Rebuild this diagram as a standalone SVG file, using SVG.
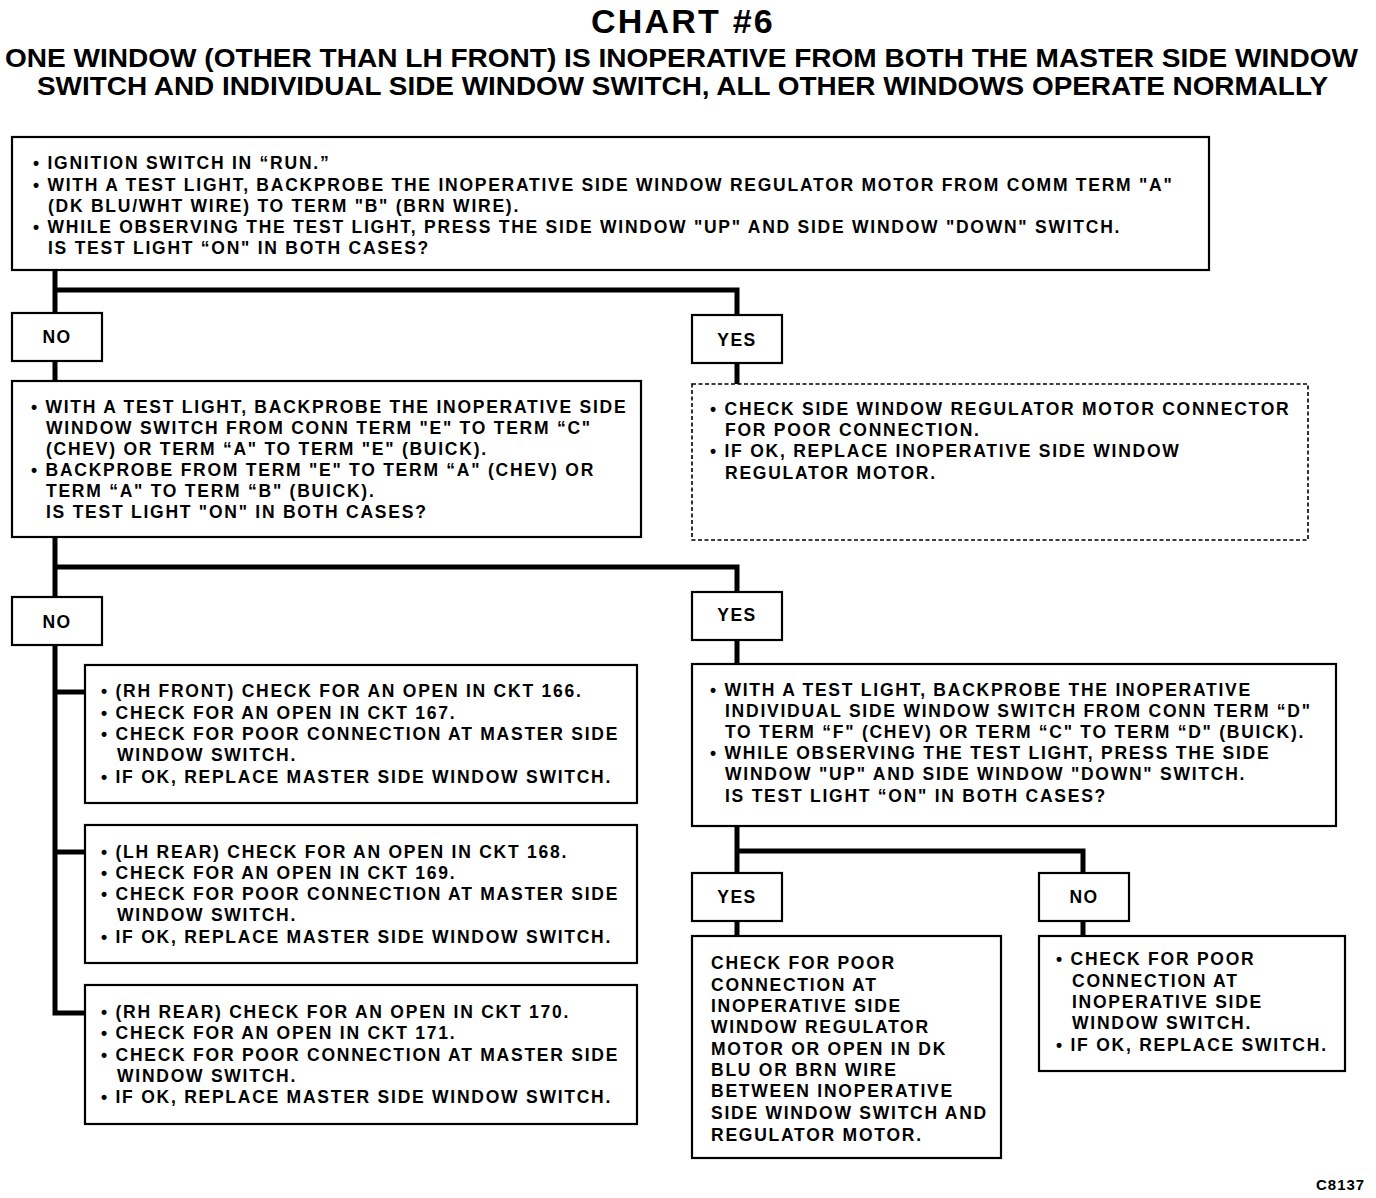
<svg xmlns="http://www.w3.org/2000/svg" width="1376" height="1198" viewBox="0 0 1376 1198">
<style>
  .bg{fill:#fff}
  .box{fill:#fff;stroke:#000;stroke-width:2.2}
  .dash{fill:#fff;stroke:#000;stroke-width:1.6;stroke-dasharray:4 2.5}
  .conn{fill:none;stroke:#000;stroke-width:5;stroke-linejoin:miter;stroke-linecap:butt}
  text{font-family:"Liberation Sans",Arial,Helvetica,sans-serif;font-weight:bold;fill:#000}
  .t{font-size:17.5px;letter-spacing:1.75px}
  .lbl{font-size:17.5px;letter-spacing:1.5px;text-anchor:middle}
  .title{font-size:34px;letter-spacing:2.2px;text-anchor:middle}
  .sub{font-size:26px}
  .code{font-size:15px;letter-spacing:1px}
</style>
<rect class="bg" x="0" y="0" width="1376" height="1198"/>
<g id="title">
  <text class="title" x="683" y="33">CHART #6</text>
  <text class="sub" x="5" y="67" textLength="1353" lengthAdjust="spacingAndGlyphs">ONE WINDOW (OTHER THAN LH FRONT) IS INOPERATIVE FROM BOTH THE MASTER SIDE WINDOW</text>
  <text class="sub" x="37" y="95" textLength="1291" lengthAdjust="spacingAndGlyphs">SWITCH AND INDIVIDUAL SIDE WINDOW SWITCH, ALL OTHER WINDOWS OPERATE NORMALLY</text>
</g>
<g id="connectors">
  <path class="conn" d="M55 270 V313"/>
  <path class="conn" d="M55 290 H737 V315"/>
  <path class="conn" d="M55 361 V381"/>
  <path class="conn" d="M737 363 V384"/>
  <path class="conn" d="M55 537 V597"/>
  <path class="conn" d="M55 567 H737 V592"/>
  <path class="conn" d="M737 640 V664"/>
  <path class="conn" d="M55 645 V1013 H85"/>
  <path class="conn" d="M55 692 H85"/>
  <path class="conn" d="M55 852 H85"/>
  <path class="conn" d="M737 826 V873"/>
  <path class="conn" d="M737 851 H1083 V873"/>
  <path class="conn" d="M737 921 V936"/>
  <path class="conn" d="M1083 921 V936"/>
</g>
<g id="box1">
  <rect class="box" x="12" y="137" width="1197" height="133"/>
  <text class="t" x="33" y="169">• IGNITION SWITCH IN “RUN.”</text>
  <text class="t" x="33" y="191">• WITH A TEST LIGHT, BACKPROBE THE INOPERATIVE SIDE WINDOW REGULATOR MOTOR FROM COMM TERM "A"</text>
  <text class="t" x="48" y="212">(DK BLU/WHT WIRE) TO TERM "B" (BRN WIRE).</text>
  <text class="t" x="33" y="233">• WHILE OBSERVING THE TEST LIGHT, PRESS THE SIDE WINDOW "UP" AND SIDE WINDOW "DOWN" SWITCH.</text>
  <text class="t" x="48" y="254">IS TEST LIGHT “ON" IN BOTH CASES?</text>
</g>
<g id="no1">
  <rect class="box" x="12" y="313" width="90" height="48"/>
  <text class="lbl" x="57" y="343">NO</text>
</g>
<g id="yes1">
  <rect class="box" x="692" y="315" width="90" height="48"/>
  <text class="lbl" x="737" y="346">YES</text>
</g>
<g id="box2">
  <rect class="box" x="12" y="381" width="629" height="156"/>
  <text class="t" x="31" y="413">• WITH A TEST LIGHT, BACKPROBE THE INOPERATIVE SIDE</text>
  <text class="t" x="46" y="434">WINDOW SWITCH FROM CONN TERM "E" TO TERM “C"</text>
  <text class="t" x="46" y="455">(CHEV) OR TERM “A" TO TERM "E" (BUICK).</text>
  <text class="t" x="31" y="476">• BACKPROBE FROM TERM "E" TO TERM “A" (CHEV) OR</text>
  <text class="t" x="46" y="497">TERM “A" TO TERM “B" (BUICK).</text>
  <text class="t" x="46" y="518">IS TEST LIGHT "ON" IN BOTH CASES?</text>
</g>
<g id="box-yes1">
  <rect class="dash" x="692" y="384" width="616" height="156"/>
  <text class="t" x="710" y="415">• CHECK SIDE WINDOW REGULATOR MOTOR CONNECTOR</text>
  <text class="t" x="725" y="436">FOR POOR CONNECTION.</text>
  <text class="t" x="710" y="457">• IF OK, REPLACE INOPERATIVE SIDE WINDOW</text>
  <text class="t" x="725" y="479">REGULATOR MOTOR.</text>
</g>
<g id="no2">
  <rect class="box" x="12" y="597" width="90" height="48"/>
  <text class="lbl" x="57" y="628">NO</text>
</g>
<g id="yes2">
  <rect class="box" x="692" y="592" width="90" height="48"/>
  <text class="lbl" x="737" y="621">YES</text>
</g>
<g id="box-rhfront">
  <rect class="box" x="85" y="665" width="552" height="138"/>
  <text class="t" x="101" y="697">• (RH FRONT) CHECK FOR AN OPEN IN CKT 166.</text>
  <text class="t" x="101" y="719">• CHECK FOR AN OPEN IN CKT 167.</text>
  <text class="t" x="101" y="740">• CHECK FOR POOR CONNECTION AT MASTER SIDE</text>
  <text class="t" x="117" y="761">WINDOW SWITCH.</text>
  <text class="t" x="101" y="783">• IF OK, REPLACE MASTER SIDE WINDOW SWITCH.</text>
</g>
<g id="box-lhrear">
  <rect class="box" x="85" y="825" width="552" height="138"/>
  <text class="t" x="101" y="858">• (LH REAR) CHECK FOR AN OPEN IN CKT 168.</text>
  <text class="t" x="101" y="879">• CHECK FOR AN OPEN IN CKT 169.</text>
  <text class="t" x="101" y="900">• CHECK FOR POOR CONNECTION AT MASTER SIDE</text>
  <text class="t" x="117" y="921">WINDOW SWITCH.</text>
  <text class="t" x="101" y="943">• IF OK, REPLACE MASTER SIDE WINDOW SWITCH.</text>
</g>
<g id="box-rhrear">
  <rect class="box" x="85" y="985" width="552" height="139"/>
  <text class="t" x="101" y="1018">• (RH REAR) CHECK FOR AN OPEN IN CKT 170.</text>
  <text class="t" x="101" y="1039">• CHECK FOR AN OPEN IN CKT 171.</text>
  <text class="t" x="101" y="1061">• CHECK FOR POOR CONNECTION AT MASTER SIDE</text>
  <text class="t" x="117" y="1082">WINDOW SWITCH.</text>
  <text class="t" x="101" y="1103">• IF OK, REPLACE MASTER SIDE WINDOW SWITCH.</text>
</g>
<g id="box4">
  <rect class="box" x="692" y="664" width="644" height="162"/>
  <text class="t" x="710" y="696">• WITH A TEST LIGHT, BACKPROBE THE INOPERATIVE</text>
  <text class="t" x="725" y="717">INDIVIDUAL SIDE WINDOW SWITCH FROM CONN TERM “D"</text>
  <text class="t" x="725" y="738">TO TERM “F" (CHEV) OR TERM “C" TO TERM “D" (BUICK).</text>
  <text class="t" x="710" y="759">• WHILE OBSERVING THE TEST LIGHT, PRESS THE SIDE</text>
  <text class="t" x="725" y="780">WINDOW "UP" AND SIDE WINDOW "DOWN" SWITCH.</text>
  <text class="t" x="725" y="802">IS TEST LIGHT “ON" IN BOTH CASES?</text>
</g>
<g id="yes3">
  <rect class="box" x="692" y="873" width="90" height="48"/>
  <text class="lbl" x="737" y="903">YES</text>
</g>
<g id="no3">
  <rect class="box" x="1039" y="873" width="90" height="48"/>
  <text class="lbl" x="1084" y="903">NO</text>
</g>
<g id="box5">
  <rect class="box" x="692" y="936" width="309" height="222"/>
  <text class="t" x="711" y="969">CHECK FOR POOR</text>
  <text class="t" x="711" y="991">CONNECTION AT</text>
  <text class="t" x="711" y="1012">INOPERATIVE SIDE</text>
  <text class="t" x="711" y="1033">WINDOW REGULATOR</text>
  <text class="t" x="711" y="1055">MOTOR OR OPEN IN DK</text>
  <text class="t" x="711" y="1076">BLU OR BRN WIRE</text>
  <text class="t" x="711" y="1097">BETWEEN INOPERATIVE</text>
  <text class="t" x="711" y="1119">SIDE WINDOW SWITCH AND</text>
  <text class="t" x="711" y="1141">REGULATOR MOTOR.</text>
</g>
<g id="box6">
  <rect class="box" x="1039" y="936" width="306" height="135"/>
  <text class="t" x="1056" y="965">• CHECK FOR POOR</text>
  <text class="t" x="1072" y="987">CONNECTION AT</text>
  <text class="t" x="1072" y="1008">INOPERATIVE SIDE</text>
  <text class="t" x="1072" y="1029">WINDOW SWITCH.</text>
  <text class="t" x="1056" y="1051">• IF OK, REPLACE SWITCH.</text>
</g>
<g id="code">
  <text class="code" x="1316" y="1190">C8137</text>
</g>
</svg>
